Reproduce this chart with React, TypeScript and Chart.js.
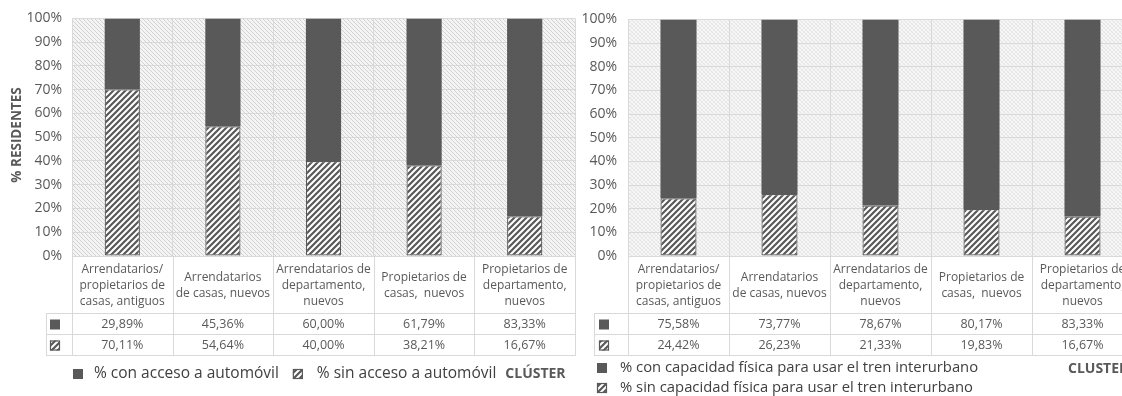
import React, { useEffect, useRef } from "react";
import { Chart, registerables } from "chart.js";
Chart.register(...registerables);

const categories: string[][] = [
  ["Arrendatarios/", "propietarios de", "casas, antiguos"],
  ["Arrendatarios", "de casas, nuevos"],
  ["Arrendatarios de", "departamento,", "nuevos"],
  ["Propietarios de", "casas,  nuevos"],
  ["Propietarios de", "departamento,", "nuevos"],
];
const carWith = [29.89, 45.36, 60.0, 61.79, 83.33];
const carWithout = [70.11, 54.64, 40.0, 38.21, 16.67];
const trainWith = [75.58, 73.77, 78.67, 80.17, 83.33];
const trainWithout = [24.42, 26.23, 21.33, 19.83, 16.67];
const carLegend = ["% con acceso a automóvil", "% sin acceso a automóvil"];
const trainLegend = [
  "% con capacidad física para usar el tren interurbano",
  "% sin capacidad física para usar el tren interurbano",
];
const yTitle = "% RESIDENTES";
const leftCluster = "CLÚSTER";
const rightCluster = "CLUSTER";

const FONT = '"Open Sans", sans-serif';
const DARK = "#595959";
const GRID = "#d9d9d9";
const TEXT = "#595959";

function makeBarHatch(): CanvasPattern | string {
  const c = document.createElement("canvas");
  c.width = 6;
  c.height = 6;
  const g = c.getContext("2d")!;
  g.fillStyle = "#ffffff";
  g.fillRect(0, 0, 6, 6);
  g.strokeStyle = DARK;
  g.lineWidth = 2.2;
  g.beginPath();
  g.moveTo(-1, 7);
  g.lineTo(7, -1);
  g.moveTo(-4, 4);
  g.lineTo(4, -4);
  g.moveTo(2, 10);
  g.lineTo(10, 2);
  g.stroke();
  return g.createPattern(c, "repeat") || DARK;
}

function makeBg(kind: "left" | "right"): CanvasPattern | string {
  const c = document.createElement("canvas");
  c.width = 4;
  c.height = 4;
  const g = c.getContext("2d")!;
  g.fillStyle = kind === "left" ? "#f4f4f4" : "#f7f7f7";
  g.fillRect(0, 0, 4, 4);
  g.lineWidth = 1;
  g.strokeStyle = kind === "left" ? "#d2d2d2" : "#e4e4e4";
  g.beginPath();
  g.moveTo(-1, -1);
  g.lineTo(5, 5);
  g.stroke();
  if (kind === "right") {
    g.strokeStyle = "#ececec";
    g.beginPath();
    g.moveTo(-1, 5);
    g.lineTo(5, -1);
    g.stroke();
  }
  return g.createPattern(c, "repeat") || "#f2f2f2";
}

type PanelCfg = {
  width: number;
  top: number;
  plotLeft: number;
  padRight: number;
  tickPad: number;
  barPct: number;
  withVals: number[];
  withoutVals: number[];
  legend: string[];
  legendRows: boolean;
  legendSize: number;
  cluster: string;
  keyLeft: number;
  keyIconX: number;
  legendX: number;
  legendY: number;
  clusterX?: number;
  title?: string;
  bg: "left" | "right";
};

const fmt = (v: number) => v.toFixed(2).replace(".", ",") + "%";

function drawKey(ctx: CanvasRenderingContext2D, x: number, y: number, s: number, hatched: boolean, hatch: any) {
  if (hatched) {
    ctx.fillStyle = hatch;
    ctx.fillRect(x, y, s, s);
    ctx.strokeStyle = DARK;
    ctx.lineWidth = 1.2;
    ctx.strokeRect(x + 0.5, y + 0.5, s - 1, s - 1);
  } else {
    ctx.fillStyle = DARK;
    ctx.fillRect(x, y, s, s);
  }
}

function Panel({ cfg }: { cfg: PanelCfg }) {
  const ref = useRef<HTMLCanvasElement>(null);
  useEffect(() => {
    const canvas = ref.current!;
    const hatch = makeBarHatch();
    const bg = makeBg(cfg.bg);
    const headerBottom = 313;
    const row1Bottom = 334;
    const row2Bottom = 355;
    const plugin = {
      id: "tableAndLegend",
      beforeDraw(chart: any) {
        const { ctx, chartArea: ca } = chart;
        ctx.save();
        ctx.fillStyle = bg;
        ctx.fillRect(ca.left, ca.top, ca.right - ca.left, ca.bottom - ca.top);
        ctx.restore();
      },
      afterDraw(chart: any) {
        const { ctx, chartArea: ca } = chart;
        const xs = chart.scales.x;
        const n = categories.length;
        const cw = (ca.right - ca.left) / n;
        ctx.save();
        ctx.strokeStyle = GRID;
        ctx.lineWidth = 1;
        ctx.beginPath();
        for (const y of [headerBottom, row1Bottom, row2Bottom]) {
          ctx.moveTo(cfg.keyLeft, y + 0.5);
          ctx.lineTo(ca.right, y + 0.5);
        }
        for (let i = 0; i <= n; i++) {
          const x = Math.round(ca.left + i * cw) + 0.5;
          ctx.moveTo(x, ca.bottom);
          ctx.lineTo(x, row2Bottom + 1);
        }
        ctx.moveTo(cfg.keyLeft + 0.5, headerBottom);
        ctx.lineTo(cfg.keyLeft + 0.5, row2Bottom + 1);
        ctx.stroke();

        // header text
        ctx.fillStyle = TEXT;
        ctx.font = `12px ${FONT}`;
        ctx.textAlign = "center";
        ctx.textBaseline = "middle";
        const lh = 16;
        const hc = (ca.bottom + headerBottom) / 2 + 1;
        categories.forEach((lines, i) => {
          const cx = xs.getPixelForValue(i);
          const y0 = hc - ((lines.length - 1) * lh) / 2;
          lines.forEach((t, j) => ctx.fillText(t, cx, y0 + j * lh));
        });
        // values
        ctx.font = `12.5px ${FONT}`;
        const r1 = (headerBottom + row1Bottom) / 2 + 1;
        const r2 = (row1Bottom + row2Bottom) / 2 + 1;
        cfg.withVals.forEach((v, i) => ctx.fillText(fmt(v), xs.getPixelForValue(i), r1));
        cfg.withoutVals.forEach((v, i) => ctx.fillText(fmt(v), xs.getPixelForValue(i), r2));
        drawKey(ctx, cfg.keyIconX, r1 - 5, 10, false, hatch);
        drawKey(ctx, cfg.keyIconX, r2 - 5, 10, true, hatch);

        // legend
        ctx.textAlign = "left";
        const lf = `${cfg.legendSize}px ${FONT}`;
        if (!cfg.legendRows) {
          let x = cfg.legendX;
          const y = cfg.legendY;
          cfg.legend.forEach((t, i) => {
            drawKey(ctx, x, y - 5, 10, i === 1, hatch);
            ctx.fillStyle = "#404040";
            ctx.font = lf;
            const tx = x + (i === 0 ? 21 : 24);
            ctx.fillText(t, tx, y);
            x = tx + ctx.measureText(t).width + 14;
          });
          ctx.font = `bold 14px ${FONT}`;
          ctx.fillStyle = TEXT;
          ctx.fillText(cfg.cluster, x - 5, y);
        } else {
          cfg.legend.forEach((t, i) => {
            const y = cfg.legendY + i * 20;
            drawKey(ctx, cfg.legendX, y - 5, 10, i === 1, hatch);
            ctx.fillStyle = "#404040";
            ctx.font = lf;
            ctx.fillText(t, cfg.legendX + 23, y);
          });
          ctx.font = `bold 14px ${FONT}`;
          ctx.fillStyle = TEXT;
          ctx.fillText(cfg.cluster, cfg.clusterX || 0, cfg.legendY + 1);
        }
        if (cfg.title) {
          ctx.save();
          ctx.translate(17, 135);
          ctx.rotate(-Math.PI / 2);
          ctx.textAlign = "center";
          ctx.font = `bold 13.5px ${FONT}`;
          ctx.fillStyle = TEXT;
          ctx.fillText(cfg.title, 0, 0);
          ctx.restore();
        }
        ctx.restore();
      },
    };

    const chart = new Chart(canvas, {
      type: "bar",
      data: {
        labels: categories.map((c) => c.join(" ")),
        datasets: [
          {
            label: cfg.legend[1],
            data: cfg.withoutVals,
            backgroundColor: hatch as any,
            borderColor: DARK,
            borderWidth: 1.2,
            borderSkipped: false,
            barPercentage: cfg.barPct,
            categoryPercentage: 1,
          },
          {
            label: cfg.legend[0],
            data: cfg.withVals,
            backgroundColor: DARK,
            borderWidth: 0,
            barPercentage: cfg.barPct,
            categoryPercentage: 1,
          },
        ],
      },
      options: {
        responsive: false,
        animation: false,
        devicePixelRatio: 1,
        layout: { padding: { top: cfg.top, bottom: 396 - 256, left: 0, right: cfg.padRight } },
        plugins: { legend: { display: false }, tooltip: { enabled: false } },
        scales: {
          x: {
            stacked: true,
            offset: true,
            ticks: { display: false },
            grid: { offset: true, color: GRID, drawTicks: false },
            border: { color: GRID },
            afterFit: (s: any) => {
              s.height = 0;
            },
          },
          y: {
            stacked: true,
            min: 0,
            max: 100,
            ticks: {
              stepSize: 10,
              padding: cfg.tickPad,
              color: TEXT,
              font: { family: FONT, size: 14 },
              callback: (v: any) => v + "%",
            },
            grid: { color: GRID, drawTicks: false },
            border: { color: GRID },
            afterFit: (s: any) => {
              s.width = cfg.plotLeft;
            },
          },
        },
      },
      plugins: [plugin],
    });
    return () => chart.destroy();
  }, [cfg]);
  return <canvas ref={ref} width={cfg.width} height={396} style={{ display: "block" }} />;
}

const leftCfg: PanelCfg = {
  width: 576,
  top: 15,
  plotLeft: 72,
  padRight: 1,
  tickPad: 10,
  barPct: 0.35,
  withVals: carWith,
  withoutVals: carWithout,
  legend: carLegend,
  legendRows: false,
  legendSize: 15.5,
  cluster: leftCluster,
  keyLeft: 46,
  keyIconX: 50,
  legendX: 73,
  legendY: 374,
  title: yTitle,
  bg: "left",
};

const rightCfg: PanelCfg = {
  width: 560,
  top: 14,
  plotLeft: 52,
  padRight: 3,
  tickPad: 11,
  barPct: 0.357,
  withVals: trainWith,
  withoutVals: trainWithout,
  legend: trainLegend,
  legendRows: true,
  legendSize: 14.8,
  cluster: rightCluster,
  keyLeft: 18,
  keyIconX: 23,
  legendX: 21,
  legendY: 368,
  clusterX: 492,
  bg: "right",
};

export default function App() {
  return (
    <div
      style={{
        position: "fixed",
        left: 0,
        top: 0,
        width: 1122,
        height: 396,
        overflow: "hidden",
        background: "#ffffff",
      }}
    >
      <div style={{ position: "absolute", left: 0, top: 0 }}>
        <Panel cfg={leftCfg} />
      </div>
      <div style={{ position: "absolute", left: 576, top: 0 }}>
        <Panel cfg={rightCfg} />
      </div>
    </div>
  );
}
